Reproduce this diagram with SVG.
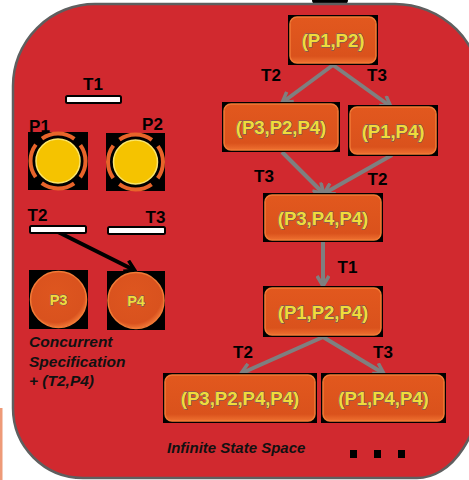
<svg xmlns="http://www.w3.org/2000/svg" width="469" height="480" viewBox="0 0 469 480">
<defs>
<style>
.lbl{font-family:"Liberation Sans",Arial,sans-serif;font-weight:bold;font-size:17px;fill:#000;text-anchor:middle}
.note{font-family:"Liberation Sans",Arial,sans-serif;font-weight:bold;font-style:italic;fill:#111}
.st{font-family:"Liberation Sans",Arial,sans-serif;font-weight:bold;font-size:18.5px;fill:#F0DC3A;stroke:#5A5F6E;stroke-width:0.9;paint-order:stroke;text-anchor:middle}
.tok{font-family:"Liberation Sans",Arial,sans-serif;font-weight:bold;font-size:14.5px;fill:#F0DC3A;stroke:#5A5F6E;stroke-width:0.8;paint-order:stroke;text-anchor:middle}
.bg{fill:#000}
.box{fill:url(#boxg);stroke:#F27A36;stroke-width:1.5}
.bar{fill:#fff;stroke:#000;stroke-width:2}
.yel{fill:#F5C300;stroke:#FBE56A;stroke-width:1.5}
.ring{fill:none;stroke:#E8642A;stroke-width:4;stroke-dasharray:34.6 8.6;stroke-dashoffset:17.3}
.otok{fill:url(#tokg);stroke:#F27A36;stroke-width:1.5}
.garr{fill:none;stroke:#7F7F7F;stroke-width:4;marker-end:url(#ga)}
.barr{fill:none;stroke:#000;stroke-width:4;marker-end:url(#ba)}
</style>
<linearGradient id="boxg" x1="0" y1="0" x2="0" y2="1">
<stop offset="0" stop-color="#E2581E"/>
<stop offset="0.85" stop-color="#DA521C"/>
<stop offset="1" stop-color="#EE7030"/>
</linearGradient>
<radialGradient id="tokg" cx="0.45" cy="0.4" r="0.6">
<stop offset="0" stop-color="#DE561F"/>
<stop offset="0.85" stop-color="#D9521E"/>
<stop offset="1" stop-color="#EE7434"/>
</radialGradient>
<marker id="ga" viewBox="0 0 14 14" refX="11" refY="7" markerWidth="14" markerHeight="14" markerUnits="userSpaceOnUse" orient="auto">
<path d="M2,1 L12,7 L2,13" fill="none" stroke="#7F7F7F" stroke-width="3.5"/>
</marker>
<marker id="ba" viewBox="0 0 14 14" refX="11" refY="7" markerWidth="14" markerHeight="14" markerUnits="userSpaceOnUse" orient="auto">
<path d="M2,1 L12,7 L2,13" fill="none" stroke="#000" stroke-width="3.5"/>
</marker>
</defs>

<rect x="0" y="408" width="2.5" height="72" fill="#EE9A78"/>
<rect x="312" y="-6" width="36" height="10" rx="4" fill="#000"/>
<path id="frame" d="M 95,4 H 395 A 87 87 0 0 1 482 91 V 378 A 65 100 0 0 1 417 478 H 83 A 70 70 0 0 1 13 408 V 86 A 82 82 0 0 1 95 4 Z" fill="#D1292F" stroke="#5F5F5F" stroke-width="2.5"/>

<g id="connectors">
<path class="garr" d="M333,65 L283,102"/>
<path class="garr" d="M333,65 L390,106"/>
<path class="garr" d="M282,152 L323,193"/>
<path class="garr" d="M392,155 L325,193"/>
<path class="garr" d="M323,242 L323,285"/>
<path class="garr" d="M323,337 L242,373"/>
<path class="garr" d="M323,337 L383,373"/>
<path class="barr" d="M58,232 L134,270"/>
<text class="lbl" x="271" y="81">T2</text>
<text class="lbl" x="377" y="81">T3</text>
<text class="lbl" x="264" y="182">T3</text>
<text class="lbl" x="377.5" y="185">T2</text>
<text class="lbl" x="347.5" y="273">T1</text>
<text class="lbl" x="243" y="358">T2</text>
<text class="lbl" x="383" y="358">T3</text>
</g>

<g id="s1"><rect class="bg" x="288" y="15" width="90" height="50"/><rect class="box" x="290" y="17" width="86" height="46" rx="7"/><text class="st" x="333" y="47">(P1,P2)</text></g>
<g id="s2"><rect class="bg" x="222" y="102" width="118" height="50"/><rect class="box" x="224" y="104" width="114" height="46" rx="7"/><text class="st" x="281" y="134">(P3,P2,P4)</text></g>
<g id="s3"><rect class="bg" x="348" y="105" width="90" height="51"/><rect class="box" x="350" y="107" width="86" height="47" rx="7"/><text class="st" x="393" y="137.5">(P1,P4)</text></g>
<g id="s4"><rect class="bg" x="263" y="193" width="120" height="49"/><rect class="box" x="265" y="195" width="116" height="45" rx="7"/><text class="st" x="323" y="224.5">(P3,P4,P4)</text></g>
<g id="s5"><rect class="bg" x="263" y="286" width="120" height="51"/><rect class="box" x="265" y="288" width="116" height="47" rx="7"/><text class="st" x="323" y="318.5">(P1,P2,P4)</text></g>
<g id="s6"><rect class="bg" x="163" y="373" width="154" height="50"/><rect class="box" x="165" y="375" width="150" height="46" rx="7"/><text class="st" x="240" y="405">(P3,P2,P4,P4)</text></g>
<g id="s7"><rect class="bg" x="321" y="373" width="125" height="50"/><rect class="box" x="323" y="375" width="121" height="46" rx="7"/><text class="st" x="383.5" y="405">(P1,P4,P4)</text></g>

<g id="t1"><rect class="bar" x="66" y="96" width="55" height="7" rx="1.5"/><text class="lbl" x="93" y="90">T1</text></g>
<g id="t2"><rect class="bar" x="30" y="226" width="56" height="7" rx="1.5"/><text class="lbl" x="37.5" y="221">T2</text></g>
<g id="t3"><rect class="bar" x="108" y="227" width="57" height="7" rx="1.5"/><text class="lbl" x="155.5" y="223">T3</text></g>

<g id="p1"><rect class="bg" x="28" y="132" width="60" height="58"/><circle class="ring" cx="58" cy="161" r="27.5"/><circle class="yel" cx="58" cy="161" r="22"/><text class="lbl" x="39.5" y="132">P1</text></g>
<g id="p2"><rect class="bg" x="106" y="133" width="59" height="58"/><circle class="ring" cx="135.5" cy="162" r="27.5"/><circle class="yel" cx="135.5" cy="162" r="22"/><text class="lbl" x="152.5" y="130">P2</text></g>
<g id="p3"><rect class="bg" x="29" y="270" width="59" height="59"/><circle class="otok" cx="58.5" cy="299.5" r="28"/><text class="tok" x="58.5" y="305">P3</text></g>
<g id="p4"><rect class="bg" x="107" y="271" width="58" height="59"/><circle class="otok" cx="136" cy="300.5" r="28"/><text class="tok" x="136" y="306">P4</text></g>

<text class="note" font-size="15.5" x="29" y="347">Concurrent</text>
<text class="note" font-size="15.5" x="29" y="367">Specification</text>
<text class="note" font-size="15.5" x="29" y="386">+ (T2,P4)</text>
<text class="note" font-size="15" x="167" y="453">Infinite State Space</text>
<rect x="350" y="450" width="7" height="8" fill="#000"/>
<rect x="374" y="450" width="7" height="8" fill="#000"/>
<rect x="398" y="450" width="7" height="8" fill="#000"/>
</svg>
